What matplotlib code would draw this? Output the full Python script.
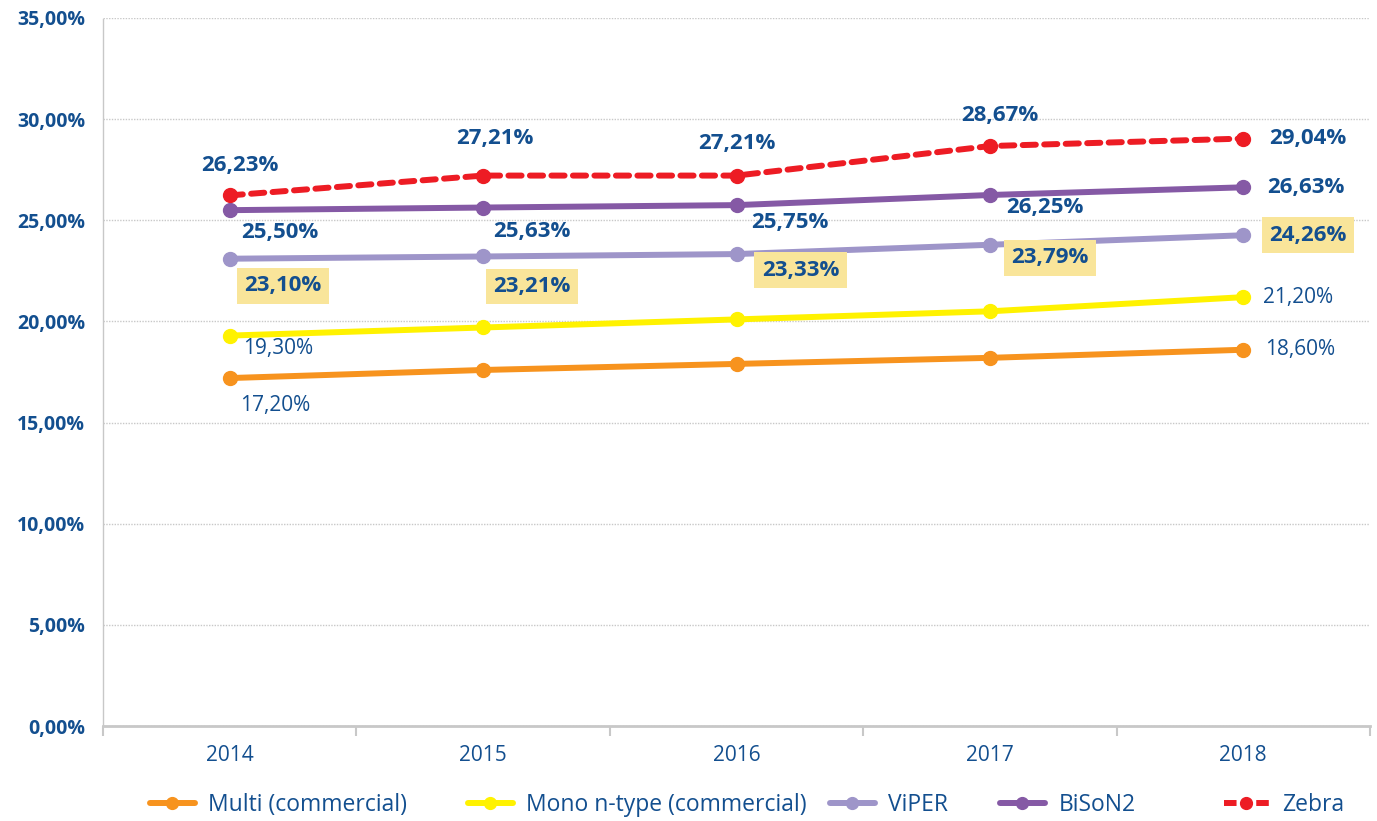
import matplotlib
matplotlib.use("Agg")
import matplotlib.pyplot as plt
from matplotlib.lines import Line2D
from matplotlib.ticker import FuncFormatter

# ---- data -------------------------------------------------------------
years = ["2014", "2015", "2016", "2017", "2018"]
multi = [17.20, 17.60, 17.90, 18.20, 18.60]
mono = [19.30, 19.70, 20.10, 20.50, 21.20]
viper = [23.10, 23.21, 23.33, 23.79, 24.26]
bison2 = [25.50, 25.63, 25.75, 26.25, 26.63]
zebra = [26.23, 27.21, 27.21, 28.67, 29.04]
series_names = ["Multi (commercial)", "Mono n-type (commercial)", "ViPER", "BiSoN2", "Zebra"]
yticks = [0, 5, 10, 15, 20, 25, 30, 35]

# ---- style ------------------------------------------------------------
plt.rcParams["font.family"] = ["Open Sans", "DejaVu Sans"]
TXT = "#134F8F"
C_MULTI = "#F7931E"
C_MONO = "#FFF200"
C_VIPER = "#9E95C9"
C_BISON = "#8559A5"
C_ZEBRA = "#ED1C24"
HILITE = "#F9E59A"
W, H = 1377, 821

fig = plt.figure(figsize=(W / 100, H / 100), dpi=100)
ax = fig.add_axes([103 / W, 1 - 726 / H, (1370 - 103) / W, (726 - 18) / H])

x = list(range(len(years)))
lw = 4.3
ms = 10

common = dict(lw=lw, marker="o", ms=ms, solid_capstyle="round", zorder=3)
l_multi, = ax.plot(x, multi, color=C_MULTI, **common)
l_mono, = ax.plot(x, mono, color=C_MONO, **common)
l_viper, = ax.plot(x, viper, color=C_VIPER, **common)
l_bison, = ax.plot(x, bison2, color=C_BISON, **common)
ax.plot(x, zebra, color=C_ZEBRA, lw=lw, marker="o", ms=ms, zorder=4,
        linestyle=(0, (2.2, 1.4)), dash_capstyle="round")
# legend proxy for the dashed series: dash - dot - dash
l_zebra = Line2D([], [], color=C_ZEBRA, lw=lw, marker="o", ms=ms,
                 linestyle=(0, (2.1, 3.3)), dash_capstyle="butt")

# ---- axes -------------------------------------------------------------
ax.set_xlim(-0.5, len(years) - 0.5)
ax.set_ylim(0, 35)
ax.set_yticks(yticks)
ax.yaxis.set_major_formatter(FuncFormatter(lambda v, _: f"{v:.2f}%".replace(".", ",")))
ax.tick_params(axis="y", length=0, pad=13, labelsize=14, labelcolor=TXT)
for lab in ax.get_yticklabels():
    lab.set_fontweight("bold")

ax.set_xticks(x)
ax.set_xticklabels(years)
ax.set_xticks([i - 0.5 for i in range(len(years) + 1)], minor=True)
ax.tick_params(axis="x", which="major", length=0, pad=14, labelsize=15, labelcolor=TXT)
ax.tick_params(axis="x", which="minor", length=7, width=1.5, color="#C8C8C8", direction="out")

ax.grid(axis="y", color="#C8C8C8", linestyle=(0, (1, 1)), linewidth=1)
ax.set_axisbelow(True)
for s in ("top", "right"):
    ax.spines[s].set_visible(False)
ax.spines["bottom"].set_color("#C8C8C8")
ax.spines["bottom"].set_linewidth(2)
ax.spines["left"].set_color("#C8C8C8")
ax.spines["left"].set_linestyle((0, (1, 1)))
ax.spines["left"].set_linewidth(1)

# ---- data labels ------------------------------------------------------
def fmt(v):
    return f"{v:.2f}%".replace(".", ",")

PX = 0.72  # pixels -> points at 100 dpi


def label(xi, v, dx, dy, ha="center", bold=True, box=False, size=16):
    kw = {}
    if box:
        kw["bbox"] = dict(boxstyle="square,pad=0.33", fc=HILITE, ec="none")
    ax.annotate(fmt(v), (xi, v), xytext=(dx * PX, dy * PX), textcoords="offset points",
                ha=ha, va="center", color=TXT, fontsize=size,
                fontweight="bold" if bold else "normal", zorder=6, **kw)


zebra_off = [(10, 30), (12, 37), (0, 32), (10, 31), (26, 0, "left")]
bison_off = [(50, -22), (49, -24), (53, -17), (55, -12), (24, 0, "left")]
viper_off = [(53, -27), (49, -30), (64, -16), (60, -13), (26, 0, "left")]

for i, o in enumerate(zebra_off):
    label(i, zebra[i], o[0], o[1], ha=o[2] if len(o) > 2 else "center")
for i, o in enumerate(bison_off):
    label(i, bison2[i], o[0], o[1], ha=o[2] if len(o) > 2 else "center")
for i, o in enumerate(viper_off):
    label(i, viper[i], o[0], o[1], ha=o[2] if len(o) > 2 else "center", box=True)

label(0, mono[0], 48, -13, bold=False, size=15)
label(4, mono[4], 20, 0, ha="left", bold=False, size=15)
label(0, multi[0], 45, -27, bold=False, size=15)
label(4, multi[4], 22, 0, ha="left", bold=False, size=15)

# ---- legend: one entry per slot along the bottom ----------------------
handles = [l_multi, l_mono, l_viper, l_bison, l_zebra]
slot_x = [150, 468, 830, 1000, 1224]
LEG_FS = 16.5
for h, name, sx in zip(handles, series_names, slot_x):
    leg = fig.legend([h], [name], loc="center left", bbox_to_anchor=(sx / W, 1 - 805 / H),
                     frameon=False, fontsize=LEG_FS, handlelength=1.95, handletextpad=0.6,
                     borderpad=0, borderaxespad=0, markerscale=0.85)
    for t in leg.get_texts():
        t.set_color(TXT)

fig.savefig("out.png", dpi=100)
